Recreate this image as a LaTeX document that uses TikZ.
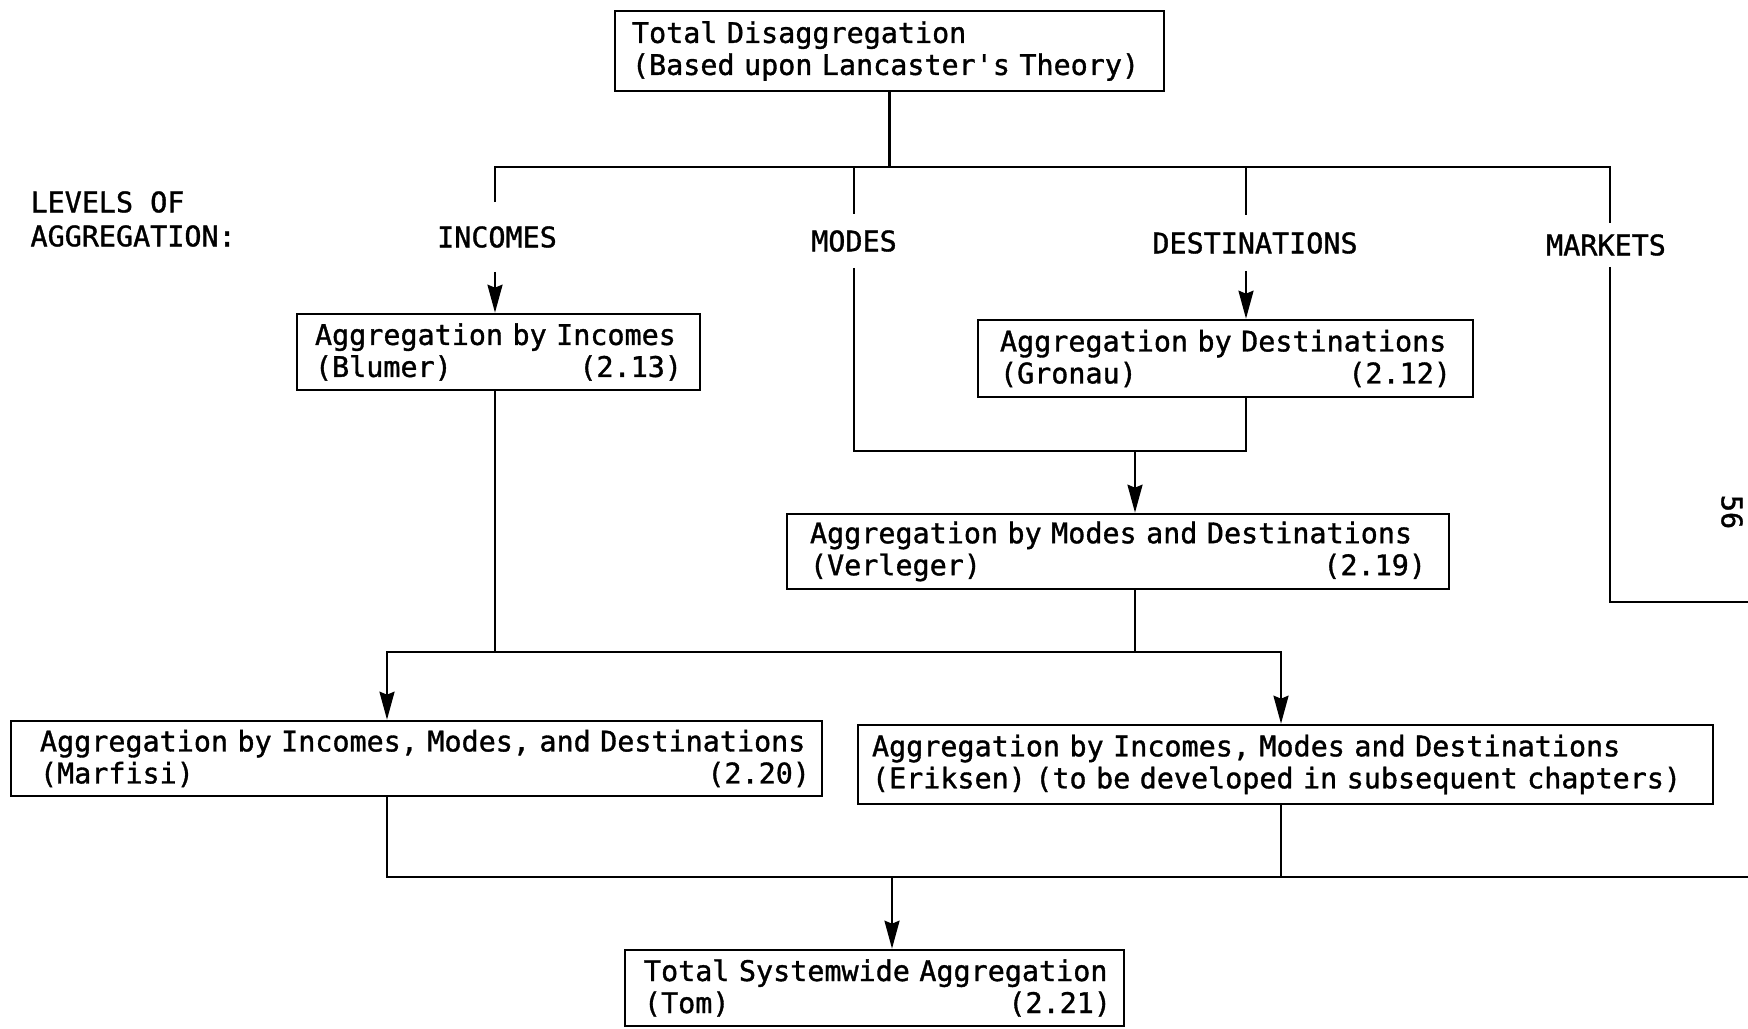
\documentclass[tikz,border=0pt]{standalone}
\usepackage{fontspec}
\setmonofont[FakeBold=1.2]{DejaVu Sans Mono}
\usetikzlibrary{arrows.meta}
\newcommand\rnum[1]{\hskip 0pt plus 1fill #1}
\begin{document}
\begin{tikzpicture}[x=1pt,y=-1pt,
  every node/.style={font=\ttfamily\fontsize{28.4}{32}\selectfont},
  box/.style={draw, line width=2.6pt, align=left, inner xsep=20pt, inner ysep=0pt},
  conn/.style={line width=2.5pt},
  arr/.style={conn, -{Stealth[length=28pt,width=15pt,inset=3pt]}},
  lab/.style={inner xsep=0pt}]
\path[use as bounding box] (0,0) rectangle (1748,1028);

% boxes
\node[box, text width=515pt, minimum height=80pt, inner xsep=17pt] (T) at (889.5,51)
  {Total Disaggregation\\(Based upon Lancaster's Theory)};
\node[box, text width=367pt, minimum height=76pt, inner xsep=18pt] (B) at (498.5,352)
  {Aggregation by Incomes\\(Blumer)\rnum{(2.13)}};
\node[box, text width=451pt, minimum height=77pt, inner xsep=22pt] (G) at (1225.5,358.5)
  {Aggregation by Destinations\\(Gronau)\rnum{(2.12)}};
\node[box, text width=616pt, minimum height=75pt, inner xsep=23pt] (V) at (1118,551.5)
  {Aggregation by Modes and Destinations\\(Verleger)\rnum{(2.19)}};
\node[box, text width=787pt, minimum height=75pt, inner xsep=12pt] (M) at (416.5,758.5)
  {\hspace*{17pt}Aggregation by Incomes, Modes, and Destinations\\\hspace*{17pt}(Marfisi)\rnum{(2.20)}};
\node[box, text width=827pt, minimum height=79pt, inner xsep=14pt] (E) at (1285.5,764.5)
  {Aggregation by Incomes, Modes and Destinations\\(Eriksen) (to be developed in subsequent chapters)};
\node[box, text width=473pt, minimum height=76pt, inner xsep=13pt] (Tm) at (874.5,988)
  {\hspace*{6pt}Total Systemwide Aggregation\\\hspace*{6pt}(Tom)\rnum{(2.21)}};

% labels
\node[align=left, anchor=west, font=\ttfamily\fontsize{28.4}{34}\selectfont] (LEV) at (27,219) {LEVELS OF\\AGGREGATION:};
\node[lab, inner ysep=24pt] (INC) at (497,237) {INCOMES};
\node[lab, inner ysep=16pt] (MOD) at (854,241) {MODES};
\node[lab, inner ysep=17pt] (DES) at (1255,243) {DESTINATIONS};
\node[lab, inner ysep=11pt] (MKT) at (1606,245) {MARKETS};
\node[rotate=-90] (PG) at (1732,512) {56};

% coordinates
\coordinate (cI) at (495,167);
\coordinate (cM) at (854,167);
\coordinate (cD) at (1246,167);
\coordinate (cK) at (1610,167);
\coordinate (jMD) at (1135,451);
\coordinate (mR) at (1748,602);
\coordinate (b2L) at (387,652);
\coordinate (b2R) at (1281,652);
\coordinate (b3L) at (387,877);
\coordinate (b3R) at (1748,877);
\coordinate (jT) at (892,877);

% connectors
\draw[conn] (T.south) -- (T.south |- cI);
\draw[conn] (cI |- INC.north) -- (cI) -- (cK) -- (cK |- MKT.north);
\draw[conn] (cM) -- (cM |- MOD.north);
\draw[conn] (cD) -- (cD |- DES.north);
\draw[arr] (cI |- INC.south) -- (cI |- B.north);
\draw[arr] (cD |- DES.south) -- (cD |- G.north);
\draw[conn] (cM |- MOD.south) -- (cM |- jMD) -- (cD |- jMD) -- (cD |- G.south);
\draw[arr] (jMD) -- (jMD |- V.north);
\draw[conn] (cK |- MKT.south) -- (cK |- mR) -- (mR);
\draw[conn] (cI |- B.south) -- (cI |- b2L);
\draw[conn] (jMD |- V.south) -- (jMD |- b2L);
\draw[arr] (b2R) -- (b2L) -- (b2L |- M.north);
\draw[arr] (b2L) -- (b2R) -- (b2R |- E.north);
\draw[conn] (b2L |- M.south) -- (b3L) -- (b3R);
\draw[conn] (b2R |- E.south) -- (b2R |- b3L);
\draw[arr] (jT) -- (jT |- Tm.north);
\end{tikzpicture}
\end{document}
